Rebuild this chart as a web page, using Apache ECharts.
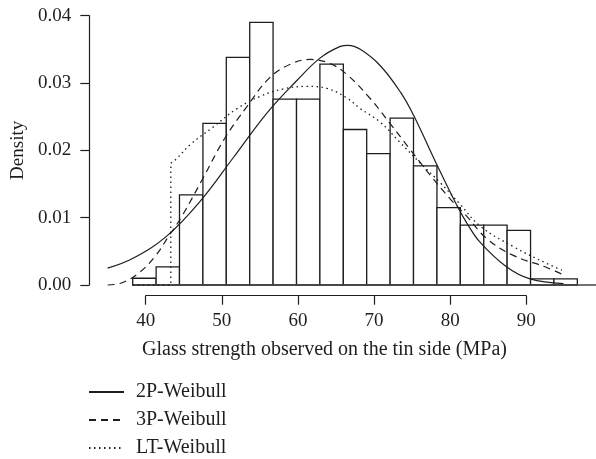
<!DOCTYPE html>
<html>
<head>
<meta charset="utf-8">
<script src="https://cdn.jsdelivr.net/npm/echarts@6/dist/echarts.min.js"></script>
<style>
html, body { margin: 0; padding: 0; background: #fff; }
#main { width: 596px; height: 459px; }
</style>
</head>
<body>
<div id="main"></div>
<script>
// histogram bins (MPa) and densities
var binEdges = [38.29, 41.37, 44.44, 47.52, 50.59, 53.67, 56.74, 59.82, 62.89, 65.97,
	69.04, 72.12, 75.19, 78.27, 81.34, 84.42, 87.49, 90.57, 93.64, 96.72];
var density = [0.0010, 0.0027, 0.0134, 0.0240, 0.0338, 0.0390, 0.0276, 0.0276, 0.0328, 0.0231,
	0.0195, 0.0248, 0.0177, 0.0115, 0.0089, 0.0089, 0.0081, 0.0009, 0.0009];

// fitted curves
var x2P = [35.0, 38.4, 42.8, 47.2, 51.5, 55.9, 59.8, 62.9, 65.5, 66.6, 68.2, 70.8, 73.5, 75.2,
	78.2, 80.9, 82.2, 83.9, 87.4, 90.5, 94.9];
var y2P = [0.0025, 0.0040, 0.0073, 0.0125, 0.0189, 0.0255, 0.0303, 0.0337, 0.0354, 0.0356, 0.0350,
	0.0326, 0.0286, 0.0252, 0.0180, 0.0118, 0.0092, 0.0064, 0.0027, 0.0009, 0.0002];
var x3P = [35.0, 36.8, 39.0, 41.2, 43.0, 44.7, 47.4, 50.4, 53.3, 56.3, 59.0, 61.6, 64.2, 66.5,
	69.5, 72.1, 74.7, 77.4, 80.0, 82.2, 84.8, 88.3, 92.7, 94.9];
var y3P = [0.0000, 0.0003, 0.0017, 0.0042, 0.0072, 0.0101, 0.0156, 0.0218, 0.0265, 0.0308, 0.0328,
	0.0335, 0.0329, 0.0312, 0.0277, 0.0240, 0.0202, 0.0163, 0.0128, 0.0102, 0.0069, 0.0044, 0.0026, 0.0015];
var xLT = [43.3, 44.0, 46.0, 48.8, 52.0, 55.0, 58.0, 61.2, 63.8, 66.4, 68.2, 70.8, 73.4, 76.0,
	78.7, 81.3, 84.0, 88.3, 92.7, 94.9];
var yLT = [0.0181, 0.0187, 0.0210, 0.0234, 0.0262, 0.0280, 0.0291, 0.0295, 0.0292, 0.0278, 0.0262,
	0.0242, 0.0212, 0.0182, 0.0152, 0.0120, 0.0087, 0.0057, 0.0032, 0.0021];
// truncated part of LT-Weibull (zero, then jump)
var xLT0 = [38.3, 43.3, 43.3];
var yLT0 = [0, 0, 0.0181];

var xTicks = [40, 50, 60, 70, 80, 90];
var yTicks = [0, 0.01, 0.02, 0.03, 0.04];
var baseline = [[38.29, 0], [99.17, 0]];

function pairs(xs, ys) {
	var out = [];
	for (var i = 0; i < xs.length; i++) out.push([xs[i], ys[i]]);
	return out;
}

var bars = [];
for (var i = 0; i < density.length; i++) {
	bars.push([binEdges[i], binEdges[i + 1], density[i]]);
}

var ink = '#1e1e1e';
var font = 'Liberation Serif';

var myChart = echarts.init(document.getElementById('main'));
myChart.setOption({
	animation: false,
	backgroundColor: '#fff',
	textStyle: { fontFamily: font, color: ink },
	title: {
		text: 'Glass strength observed on the tin side (MPa)',
		left: 142,
		top: 340,
		padding: 0,
		textStyle: { fontFamily: font, fontSize: 20, fontWeight: 'normal', color: ink }
	},
	legend: {
		orient: 'vertical',
		left: 88,
		top: 382,
		padding: 0,
		itemWidth: 35,
		itemHeight: 12,
		itemGap: 8,
		data: ['2P-Weibull', '3P-Weibull', 'LT-Weibull'],
		itemStyle: { color: 'rgba(0,0,0,0)', borderColor: 'rgba(0,0,0,0)', borderWidth: 0 },
		textStyle: { fontFamily: font, fontSize: 20, lineHeight: 20, color: ink, padding: [0, 0, 0, 7] }
	},
	grid: [
		{ left: 89.3, top: 15.7, width: 506.7, height: 269.3 },
		{ left: 145.7, top: 200, width: 380.6, height: 95.7 }
	],
	xAxis: [
		{ type: 'value', gridIndex: 0, min: 32.59, max: 99.17, show: false },
		{
			type: 'value', gridIndex: 1, min: xTicks[0], max: xTicks[xTicks.length - 1], interval: 10,
			axisLine: { show: true, lineStyle: { color: ink, width: 1.2 } },
			axisTick: { show: true, length: 9, lineStyle: { color: ink, width: 1.2 } },
			axisLabel: { margin: 16, fontSize: 19, fontFamily: font, color: ink },
			splitLine: { show: false }
		}
	],
	yAxis: [
		{
			type: 'value', gridIndex: 0, min: yTicks[0], max: yTicks[yTicks.length - 1], interval: 0.01,
			name: 'Density',
			nameLocation: 'middle',
			nameGap: 62,
			nameTextStyle: { fontFamily: font, fontSize: 19, color: ink },
			axisLine: { show: true, lineStyle: { color: ink, width: 1.2 } },
			axisTick: { show: true, length: 9, lineStyle: { color: ink, width: 1.2 } },
			axisLabel: {
				margin: 18, fontSize: 19, fontFamily: font, color: ink,
				formatter: function (v) { return v.toFixed(2); }
			},
			splitLine: { show: false }
		},
		{ type: 'value', gridIndex: 1, show: false, min: 0, max: 1 }
	],
	series: [
		{
			name: 'hist',
			type: 'custom',
			xAxisIndex: 0,
			yAxisIndex: 0,
			z: 1,
			encode: { x: [0, 1], y: 2 },
			data: bars,
			renderItem: function (params, api) {
				var p0 = api.coord([api.value(0), api.value(2)]);
				var p1 = api.coord([api.value(1), 0]);
				return {
					type: 'rect',
					shape: { x: p0[0], y: p0[1], width: p1[0] - p0[0], height: p1[1] - p0[1] },
					style: { fill: '#fff', stroke: ink, lineWidth: 1.3 }
				};
			}
		},
		{
			name: 'base',
			type: 'line',
			z: 2,
			symbol: 'none',
			silent: true,
			clip: false,
			data: baseline,
			lineStyle: { color: '#444', width: 1.3 }
		},
		{
			name: '2P-Weibull',
			type: 'line',
			z: 3,
			symbol: 'none',
			smooth: 0.4,
			clip: false,
			data: pairs(x2P, y2P),
			lineStyle: { color: ink, width: 1.2, type: 'solid' },
			itemStyle: { color: ink }
		},
		{
			name: '3P-Weibull',
			type: 'line',
			z: 3,
			symbol: 'none',
			smooth: 0.4,
			clip: false,
			data: pairs(x3P, y3P),
			lineStyle: { color: ink, width: 1.2, type: [7, 5] },
			itemStyle: { color: ink }
		},
		{
			name: 'LT-Weibull',
			type: 'line',
			z: 3,
			symbol: 'none',
			smooth: 0.4,
			clip: false,
			data: pairs(xLT, yLT),
			lineStyle: { color: ink, width: 1.3, type: [1.5, 3.5] },
			itemStyle: { color: ink }
		},
		{
			name: 'LT-Weibull',
			type: 'line',
			z: 3,
			symbol: 'none',
			clip: false,
			data: pairs(xLT0, yLT0),
			lineStyle: { color: ink, width: 1.3, type: [1.5, 3.5] },
			itemStyle: { color: ink }
		}
	]
});
</script>
</body>
</html>
